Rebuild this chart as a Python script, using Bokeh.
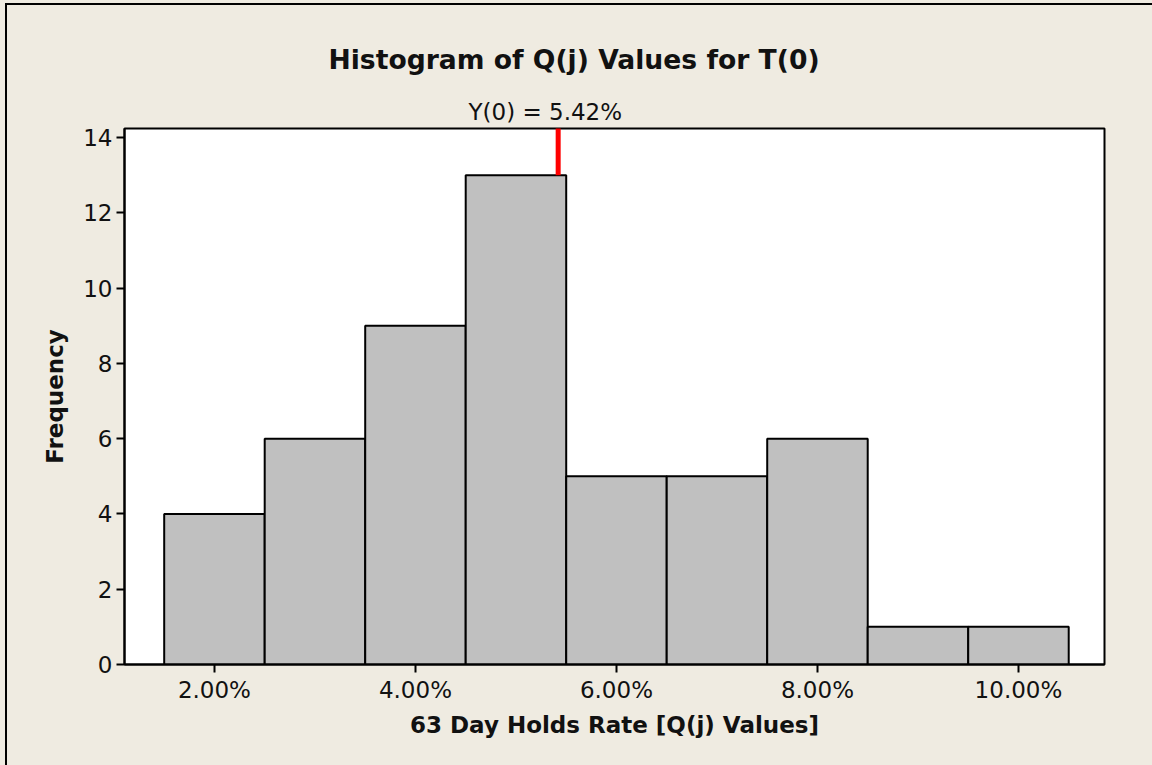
from bokeh.plotting import figure
from bokeh.models import FixedTicker, Range1d, Title
from bokeh.embed import file_html
from bokeh.resources import INLINE

# Data
bin_centers = [2, 3, 4, 5, 6, 7, 8, 9, 10]          # Q(j) value, percent
frequencies = [4, 6, 9, 13, 5, 5, 6, 1, 1]
bin_width = 1.0
x_ticks = [2, 4, 6, 8, 10]
x_tick_labels = ["2.00%", "4.00%", "6.00%", "8.00%", "10.00%"]
y_ticks = [0, 2, 4, 6, 8, 10, 12, 14]
y0_value = 5.42
y0_label = "Y(0) = 5.42%"
title_text = "Histogram of Q(j) Values for T(0)"
x_label = "63 Day Holds Rate [Q(j) Values]"
y_label = "Frequency"

BG = "#EFEBE1"
FONT = "DejaVu Sans"
TXT = "#111111"

x_start, x_end = 1.105, 10.856
y_start, y_end = 0, 14.24

p = figure(width=1150, height=765, output_backend="svg", toolbar_location=None,
           x_range=Range1d(x_start, x_end), y_range=Range1d(y_start, y_end),
           min_border_left=117, min_border_right=53, min_border_top=123, min_border_bottom=106)
p.styles = {"margin-left": "7px", "margin-top": "5px",
            "box-shadow": "-2px -2px 0px 0px black"}
p.background_fill_color = "white"
p.border_fill_color = BG
p.outline_line_color = "black"
p.outline_line_width = 2
p.grid.visible = False

lefts = [c - bin_width / 2 for c in bin_centers]
rights = [c + bin_width / 2 for c in bin_centers]
p.quad(left=lefts, right=rights, bottom=0, top=frequencies,
       fill_color="#C0C0C0", line_color="black", line_width=2)

# reference line at Y(0), rising from the top of the bin that holds it
y0_bin_top = frequencies[bin_centers.index(round(y0_value))]
p.segment(x0=[y0_value], y0=[y0_bin_top], x1=[y0_value], y1=[y_end + 1],
          line_color="#FF0000", line_width=5)

for ax in (p.xaxis[0], p.yaxis[0]):
    ax.axis_line_color = "black"
    ax.axis_line_width = 2
    ax.major_tick_line_color = "black"
    ax.major_tick_line_width = 2
    ax.major_tick_out = 8
    ax.major_tick_in = 0
    ax.minor_tick_line_color = None
    ax.major_label_text_font = FONT
    ax.major_label_text_font_size = "23px"
    ax.major_label_text_color = TXT
    ax.axis_label_text_font = FONT
    ax.axis_label_text_font_style = "bold"
    ax.axis_label_text_font_size = "23px"
    ax.axis_label_text_color = TXT

p.xaxis.ticker = FixedTicker(ticks=x_ticks)
p.xaxis.major_label_overrides = {t: l for t, l in zip(x_ticks, x_tick_labels)}
p.xaxis.major_label_standoff = 4
p.xaxis.axis_label = x_label
p.xaxis.axis_label_standoff = 6

p.yaxis.ticker = FixedTicker(ticks=y_ticks)
p.yaxis.major_label_standoff = 4
p.yaxis.axis_label = y_label
p.yaxis.axis_label_standoff = 12

# annotation label for Y(0) (nearest the frame), then the main title above it
p.add_layout(Title(text=y0_label, align="left", offset=344, standoff=8,
                   vertical_align="bottom",
                   text_font=FONT, text_font_size="23px", text_font_style="normal",
                   text_color=TXT), "above")
p.add_layout(Title(text=title_text, align="left", offset=204, standoff=36,
                   vertical_align="bottom",
                   text_font=FONT, text_font_size="26.6px", text_font_style="bold",
                   text_color=TXT), "above")

html = file_html(p, INLINE)
html = html.replace("<head>", "<head><style>html, body { margin: 0; overflow: hidden; background: %s; }</style>" % BG, 1)
open("out.html", "w").write(html)
